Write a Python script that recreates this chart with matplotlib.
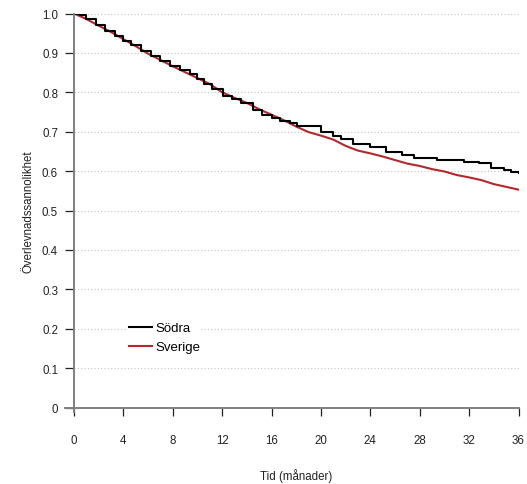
import matplotlib

matplotlib.use("Agg")
import matplotlib.pyplot as plt

plt.rcParams["font.family"] = ["Liberation Sans", "DejaVu Sans"]

# Södra (black step curve)
sodra_t = [0, 0.5, 1.0, 1.8, 2.5, 3.3, 4.0, 4.6, 5.4, 6.2, 7.0, 7.8, 8.6, 9.4,
           10.0, 10.5, 11.2, 12.1, 12.8, 13.5, 14.5, 15.2, 16.0, 16.7, 17.5,
           18.1, 20.0, 21.0, 21.6, 22.6, 24.0, 25.3, 26.6, 27.5, 29.4, 31.6,
           32.8, 33.8, 34.8, 35.4, 36.0]
sodra_s = [1.0, 0.995, 0.985, 0.972, 0.955, 0.942, 0.930, 0.920, 0.905, 0.893,
           0.880, 0.868, 0.857, 0.846, 0.835, 0.821, 0.808, 0.791, 0.782, 0.772,
           0.755, 0.742, 0.735, 0.728, 0.722, 0.715, 0.698, 0.690, 0.681, 0.670,
           0.660, 0.649, 0.641, 0.633, 0.629, 0.624, 0.620, 0.608, 0.603, 0.597,
           0.594]

# Sverige (red curve)
sverige_t = list(range(0, 37))
sverige_s = [1.0, 0.986, 0.969, 0.953, 0.935, 0.917, 0.898, 0.882, 0.866, 0.851,
             0.836, 0.821, 0.800, 0.786, 0.773, 0.757, 0.743, 0.729, 0.713, 0.699,
             0.690, 0.680, 0.664, 0.652, 0.645, 0.637, 0.628, 0.619, 0.613, 0.605,
             0.599, 0.590, 0.584, 0.577, 0.567, 0.560, 0.553]

x_ticks = list(range(0, 37, 4))
y_ticks = [0, 0.1, 0.2, 0.3, 0.4, 0.5, 0.6, 0.7, 0.8, 0.9, 1.0]
y_tick_labels = ["0", "0.1", "0.2", "0.3", "0.4", "0.5", "0.6", "0.7", "0.8", "0.9", "1.0"]

FS = 8.3

fig = plt.figure(figsize=(5.27, 4.85), dpi=100)
ax = fig.add_axes([74 / 527, 1 - 408.5 / 485, 444.5 / 527, 394 / 485])

ax.set_xlim(0, 36)
ax.set_ylim(0, 1)

for y in y_ticks[1:]:
    ax.axhline(y, color="#c4c4c4", linestyle=(0, (1, 2)), linewidth=0.8, zorder=0)

ax.plot(sodra_t, sodra_s, color="black", linewidth=1.5, drawstyle="steps-post",
        label="Södra", zorder=3)
ax.plot(sverige_t, sverige_s, color="#b5272d", linewidth=1.5, label="Sverige", zorder=2)

for side in ["top", "right", "left", "bottom"]:
    ax.spines[side].set_visible(False)

# axis lines, slightly overshooting the corner
ax.plot([-9 / 444.5, 1], [0, 0], transform=ax.transAxes, color="#808080",
        linewidth=1.4, clip_on=False, zorder=4)
ax.plot([0, 0], [-4 / 394, 1], transform=ax.transAxes, color="#808080",
        linewidth=1.4, clip_on=False, zorder=4)

ax.set_xticks(x_ticks)
ax.set_yticks(y_ticks)
ax.set_yticklabels(y_tick_labels)
ax.tick_params(axis="x", direction="out", length=5.8, width=0.9, pad=13,
               labelsize=FS, colors="#222222")
ax.tick_params(axis="y", direction="out", length=6.5, width=0.9, pad=5,
               labelsize=FS, colors="#222222")

ax.set_xlabel("Tid (månader)", fontsize=FS, labelpad=16.5, color="#222222")
ax.set_ylabel("Överlevnadssannolikhet", fontsize=FS, labelpad=5.5, color="#222222")

leg = ax.legend(loc="upper left", bbox_to_anchor=(0.12, 0.22), frameon=True,
                fontsize=9.5, handlelength=1.8, handletextpad=0.2, labelspacing=0.5,
                borderpad=0.1, borderaxespad=0)
leg.get_frame().set_facecolor("white")
leg.get_frame().set_edgecolor("none")
leg.get_frame().set_alpha(1)

fig.savefig("out.png", dpi=100)
